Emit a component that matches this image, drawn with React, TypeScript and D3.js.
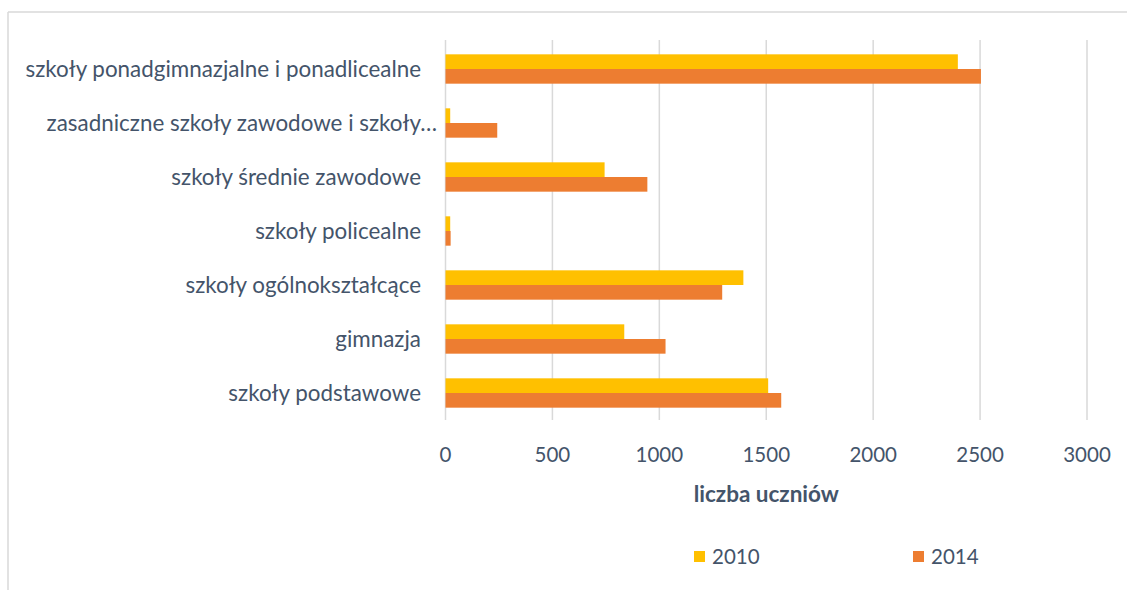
import React from "react";
import * as d3 from "d3";

const categories = [
  "szkoły ponadgimnazjalne i ponadlicealne",
  "zasadniczne szkoły zawodowe i szkoły…",
  "szkoły średnie zawodowe",
  "szkoły policealne",
  "szkoły ogólnokształcące",
  "gimnazja",
  "szkoły podstawowe",
];
const seriesNames = ["2010", "2014"];
const values2010 = [2396, 22, 744, 22, 1393, 836, 1509];
const values2014 = [2504, 242, 944, 24, 1294, 1029, 1570];
const xTicks = [0, 500, 1000, 1500, 2000, 2500, 3000];
const axisTitle = "liczba uczniów";

const colors = ["#FFC000", "#ED7D31"];
const textColor = "#44546A";
const gridColor = "#D9D9D9";
const font = "Lato, 'Open Sans', sans-serif";

export default function App() {
  const W = 1127;
  const H = 590;
  const x = d3.scaleLinear().domain([0, 3000]).range([445.5, 1087]);
  const y0 = d3.scaleBand<string>().domain(categories).range([42, 420]).padding(0);
  const y1 = d3
    .scaleBand<string>()
    .domain(seriesNames)
    .range([0, y0.bandwidth()])
    .paddingInner(0)
    .paddingOuter(0.84);
  const series = [values2010, values2014];

  return (
    <svg
      width={W}
      height={H}
      style={{ position: "absolute", left: 0, top: 0, background: "#fff" }}
      fontFamily={font}
    >
      <rect x={0} y={0} width={W} height={H} fill="#fff" />
      {/* frame */}
      <line x1={8} y1={12} x2={W} y2={12} stroke={gridColor} strokeWidth={1.5} />
      <line x1={8} y1={12} x2={8} y2={H} stroke={gridColor} strokeWidth={1.5} />
      {/* gridlines */}
      {xTicks.map((t) => (
        <line
          key={t}
          x1={x(t)}
          x2={x(t)}
          y1={40}
          y2={420}
          stroke={gridColor}
          strokeWidth={1.5}
        />
      ))}
      {/* bars */}
      {categories.map((c, i) => (
        <g key={c} transform={`translate(0,${y0(c)})`}>
          {seriesNames.map((s, j) => (
            <rect
              key={s}
              x={x(0)}
              y={y1(s)}
              width={x(series[j][i]) - x(0)}
              height={y1.bandwidth()}
              fill={colors[j]}
            />
          ))}
        </g>
      ))}
      {/* category labels */}
      {categories.map((c) => (
        <text
          key={c}
          x={c.endsWith("…") ? 437 : 421}
          y={(y0(c) as number) + y0.bandwidth() / 2}
          dy="0.36em"
          textAnchor="end"
          fontSize={22.4}
          fill={textColor}
        >
          {c}
        </text>
      ))}
      {/* x tick labels */}
      {xTicks.map((t) => (
        <text
          key={t}
          x={x(t)}
          y={455}
          dy="0.36em"
          textAnchor="middle"
          fontSize={20.5}
          fill={textColor}
        >
          {t}
        </text>
      ))}
      <text
        x={(x(0) + x(3000)) / 2}
        y={494}
        dy="0.36em"
        textAnchor="middle"
        fontSize={22.5}
        fontWeight="bold"
        fill={textColor}
      >
        {axisTitle}
      </text>
      {/* legend */}
      {seriesNames.map((s, j) => {
        const lx = j === 0 ? 694 : 913;
        return (
          <g key={s}>
            <rect x={lx} y={551} width={11} height={11} fill={colors[j]} />
            <text x={lx + 18} y={556.5} dy="0.36em" fontSize={20.5} fill={textColor}>
              {s}
            </text>
          </g>
        );
      })}
    </svg>
  );
}
